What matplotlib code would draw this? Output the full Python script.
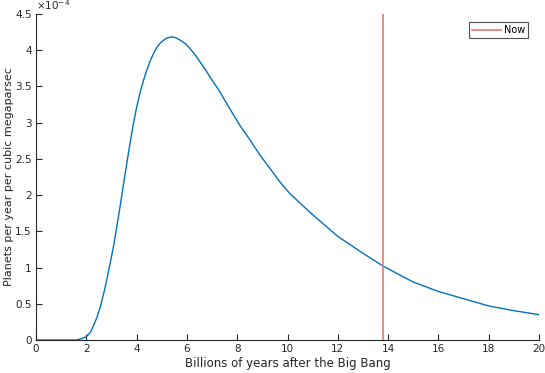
import numpy as np
import matplotlib
matplotlib.use("Agg")
import matplotlib.pyplot as plt
from matplotlib.ticker import FuncFormatter

# formation rate curve (values in units of 1e-4 planets / yr / Mpc^3)
years = [0, 1.0, 1.6, 1.83, 2.0, 2.16, 2.29, 2.42, 2.56, 2.69, 2.82, 2.95,
         3.09, 3.22, 3.35, 3.48, 3.62, 3.75, 3.88, 4.0, 4.14, 4.28, 4.41,
         4.55, 4.68, 4.81, 4.94, 5.08, 5.21, 5.41, 5.57, 5.73, 5.94, 6.13,
         6.32, 6.52, 6.72, 6.92, 7.32, 7.71, 8.11, 8.51, 8.91, 9.3, 9.7,
         10.1, 10.5, 10.9, 11.5, 12, 12.9, 13.8, 15, 16, 17, 18, 19, 20]
rate_e4 = [0, 0, 0, 0.02, 0.045, 0.105, 0.20, 0.31, 0.46, 0.64, 0.84, 1.06,
           1.31, 1.58, 1.86, 2.15, 2.46, 2.74, 3.00, 3.21, 3.42, 3.59, 3.73,
           3.86, 3.96, 4.04, 4.10, 4.14, 4.17, 4.185, 4.17, 4.14, 4.09, 4.02,
           3.94, 3.84, 3.74, 3.63, 3.42, 3.19, 2.96, 2.76, 2.55, 2.37, 2.18,
           2.02, 1.89, 1.76, 1.58, 1.43, 1.22, 1.02, 0.80, 0.67, 0.57, 0.47,
           0.405, 0.35]
rate = np.array(rate_e4) * 1e-4

now = 13.8
ymax = 4.5e-4

plt.rcParams['font.family'] = ['DejaVu Sans']
col = '#262626'

fig = plt.figure(figsize=(5.45, 3.73), dpi=100)
ax = fig.add_axes([36/545, 33/373, 503/545, 326/373])

ax.plot(years, rate, color='#0072BD', lw=1.0, solid_joinstyle='round')
ax.plot([now, now], [0, ymax], color='#e8787a', lw=1.2, label='Now')

ax.set_xlim(0, 20)
ax.set_ylim(0, ymax)
ax.set_xticks(np.arange(0, 21, 2))
ax.set_yticks(np.arange(0, 4.51, 0.5) * 1e-4)
ax.yaxis.set_major_formatter(FuncFormatter(lambda v, p: '%g' % round(v / 1e-4, 2)))

for s in ['top', 'right']:
    ax.spines[s].set_visible(False)
for s in ['left', 'bottom']:
    ax.spines[s].set_color(col)
    ax.spines[s].set_linewidth(0.8)
ax.tick_params(direction='in', length=4, width=0.8, colors=col, labelsize=7.5, pad=3)

ax.text(0, 1.005, r'$\times10^{-4}$', transform=ax.transAxes, fontsize=7.5,
        color=col, ha='left', va='bottom')

ax.set_xlabel('Billions of years after the Big Bang', fontsize=8.5, color=col, labelpad=2)
ax.set_ylabel('Planets per year per cubic megaparsec', fontsize=8, color=col,
              va='center')
ax.yaxis.set_label_coords(-(36 - 9) / 503, 0.5)

leg = ax.legend(loc='upper right', bbox_to_anchor=(0.978, 0.975), fontsize=7,
                frameon=True, fancybox=False, edgecolor=col, handlelength=3.0,
                borderpad=0.3, handletextpad=0.3, borderaxespad=0)
leg.get_frame().set_linewidth(0.8)

fig.savefig('out.png', dpi=100)
